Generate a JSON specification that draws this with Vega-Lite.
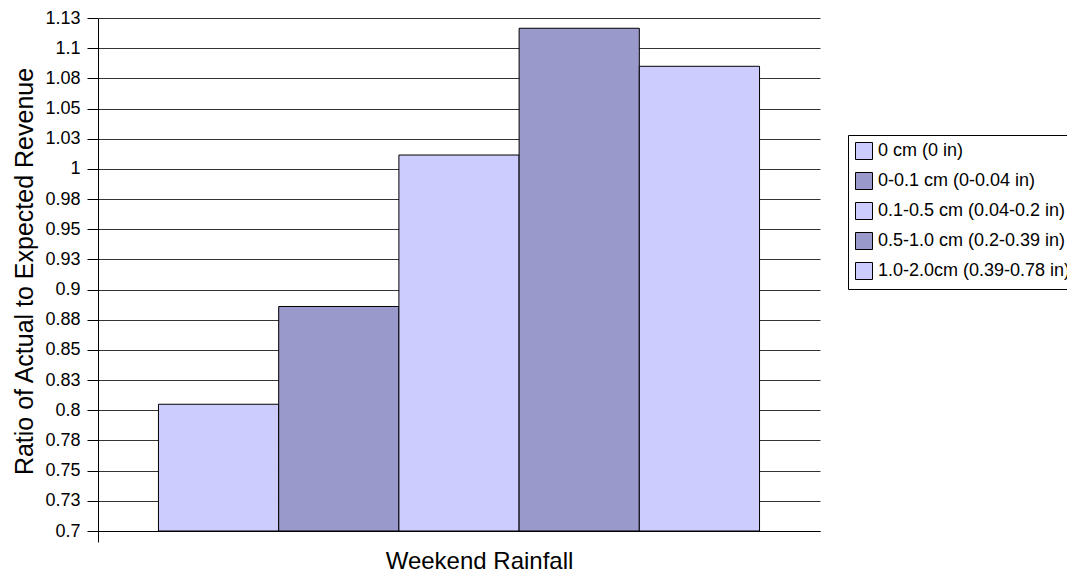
{
  "$schema": "https://vega.github.io/schema/vega-lite/v6.json",
  "width": 722,
  "height": 513,
  "autosize": {"type": "none"},
  "padding": {"left": 98, "top": 18, "right": 247, "bottom": 44},
  "background": "white",
  "config": {
    "font": "Liberation Sans",
    "view": {"stroke": null}
  },
  "data": {
    "values": [
      {"category": "Weekend Rainfall", "series": "0 cm (0 in)", "ratio": 0.805},
      {"category": "Weekend Rainfall", "series": "0-0.1 cm (0-0.04 in)", "ratio": 0.886},
      {"category": "Weekend Rainfall", "series": "0.1-0.5 cm (0.04-0.2 in)", "ratio": 1.0115},
      {"category": "Weekend Rainfall", "series": "0.5-1.0 cm (0.2-0.39 in)", "ratio": 1.1165},
      {"category": "Weekend Rainfall", "series": "1.0-2.0cm (0.39-0.78 in)", "ratio": 1.085}
    ]
  },
  "mark": {"type": "bar", "stroke": "#000000", "strokeWidth": 1, "opacity": 1},
  "encoding": {
    "x": {
      "field": "category",
      "type": "nominal",
      "scale": {"paddingInner": 0, "paddingOuter": 0},
      "axis": {
        "title": "Weekend Rainfall",
        "titleFontSize": 24,
        "titleFontWeight": "normal",
        "titleColor": "#000000",
        "titleX": 381,
        "titleY": 37,
        "titleBaseline": "alphabetic",
        "labels": false,
        "ticks": true,
        "bandPosition": 0,
        "tickSize": 11,
        "tickColor": "#000000",
        "domainColor": "#000000",
        "grid": false,
        "zindex": 1
      }
    },
    "xOffset": {
      "field": "series",
      "type": "nominal",
      "sort": null,
      "scale": {"paddingInner": 0, "paddingOuter": 0.503}
    },
    "y": {
      "field": "ratio",
      "type": "quantitative",
      "scale": {"domain": [0.7, 1.125], "zero": false, "nice": false},
      "axis": {
        "title": "Ratio of Actual to Expected Revenue",
        "titleFontSize": 25,
        "titleFontWeight": "normal",
        "titleColor": "#000000",
        "titleAngle": -90,
        "titleX": -66,
        "titleY": 253,
        "titleAlign": "center",
        "titleBaseline": "alphabetic",
        "values": [0.7, 0.725, 0.75, 0.775, 0.8, 0.825, 0.85, 0.875, 0.9, 0.925, 0.95, 0.975, 1.0, 1.025, 1.05, 1.075, 1.1, 1.125],
        "labelExpr": "format(datum.value + 0.0001, '.2~f')",
        "labelFontSize": 18,
        "labelColor": "#000000",
        "labelPadding": 7,
        "tickSize": 11,
        "tickColor": "#000000",
        "domainColor": "#000000",
        "grid": true,
        "gridColor": "#333333",
        "gridWidth": 1
      }
    },
    "y2": {"datum": 0.7},
    "fill": {
      "field": "series",
      "type": "nominal",
      "scale": {
        "domain": ["0 cm (0 in)", "0-0.1 cm (0-0.04 in)", "0.1-0.5 cm (0.04-0.2 in)", "0.5-1.0 cm (0.2-0.39 in)", "1.0-2.0cm (0.39-0.78 in)"],
        "range": ["#CCCCFF", "#9999CC", "#CCCCFF", "#9999CC", "#CCCCFF"]
      },
      "legend": {
        "title": null,
        "orient": "none",
        "legendX": 750,
        "legendY": 117,
        "symbolType": "square",
        "symbolSize": 289,
        "symbolStrokeWidth": 1,
        "symbolOpacity": 1,
        "labelFontSize": 18,
        "labelColor": "#000000",
        "labelOffset": 5,
        "rowPadding": 8,
        "padding": 7,
        "strokeColor": "#000000",
        "fillColor": "#FFFFFF",
        "labelLimit": 400,
        "encode": {
          "symbols": {
            "update": {
              "stroke": {"signal": "datum.value === '1.0-2.0cm (0.39-0.78 in)' ? '#993333' : '#000000'"}
            }
          }
        }
      }
    }
  }
}
